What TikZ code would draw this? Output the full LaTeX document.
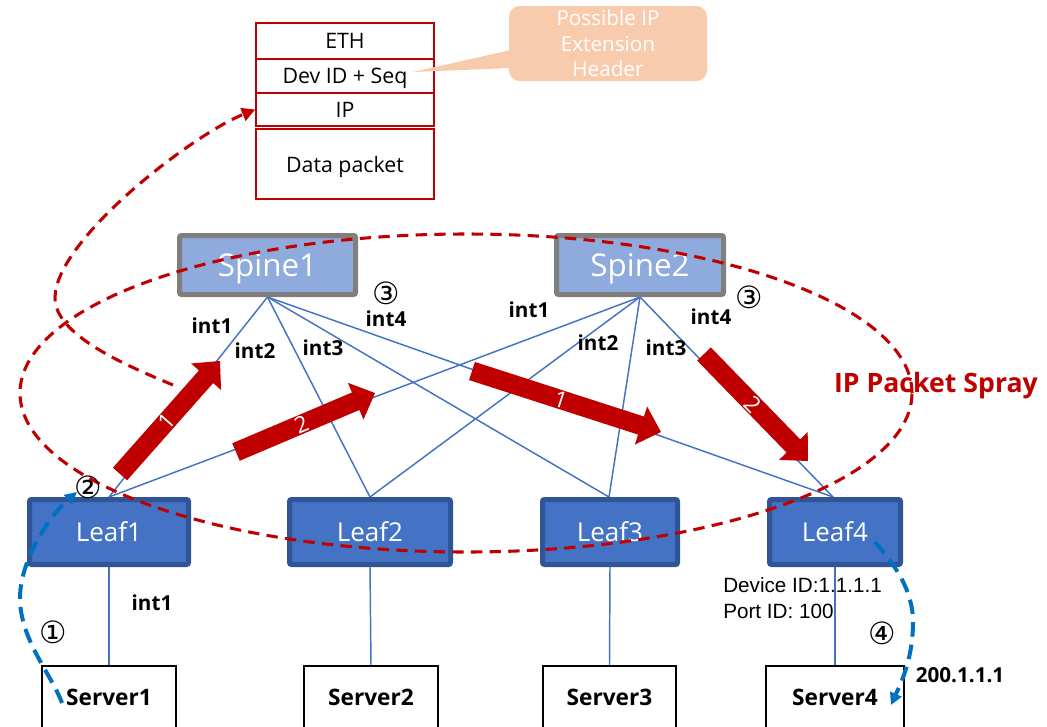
\documentclass[tikz,border=0pt]{standalone}
\usepackage{fontspec}
\setmainfont{Open Sans}
\newfontfamily\arialf{Liberation Sans}
\newfontfamily\symf{DejaVu Sans}
\usetikzlibrary{arrows.meta}
\definecolor{arrowred}{HTML}{C00000}
\definecolor{linkblue}{HTML}{4472C4}
\definecolor{spinefill}{HTML}{8FAADC}
\definecolor{spineborder}{HTML}{7F7F7F}
\definecolor{leaffill}{HTML}{4472C4}
\definecolor{leafborder}{HTML}{2F5597}
\definecolor{calloutfill}{HTML}{F8CBAD}
\definecolor{dashblue}{HTML}{0070C0}
\newcommand\blockarrow[6]{%
  \pgfmathsetmacro\bdx{#3-#1}%
  \pgfmathsetmacro\bdy{#4-#2}%
  \pgfmathsetmacro\blen{veclen(\bdx,\bdy)}%
  \pgfmathsetmacro\bang{atan2(-\bdy,\bdx)}%
  \begin{scope}[shift={(#1,#2)},rotate=\bang]
    \fill[arrowred] (0,-9.5) -- (\blen-21,-9.5) -- (\blen-21,-20) -- (\blen,0) -- (\blen-21,20) -- (\blen-21,9.5) -- (0,9.5) -- cycle;
    \node[arrowlbl,rotate=\bang] (#6) at (0.47*\blen,0) {#5};
  \end{scope}}
\begin{document}
\begin{tikzpicture}[x=0.75pt,y=-0.75pt,
  spinebox/.style={draw=spineborder,line width=3.75pt,fill=spinefill,text=white,rounded corners=1.5pt,
    font=\fontsize{23.5}{28}\selectfont,inner sep=0pt,text depth=0pt},
  leafbox/.style={draw=leafborder,line width=3.75pt,fill=leaffill,text=white,rounded corners=1.5pt,
    font=\fontsize{19.5}{23}\selectfont,inner sep=0pt,text depth=0pt,minimum height=65*0.75pt},
  serverbox/.style={draw=black,line width=1.5pt,fill=white,
    font=\bfseries\fontsize{17}{20}\selectfont,inner sep=0pt,text depth=0pt,minimum height=62*0.75pt},
  pktbox/.style={draw=arrowred,line width=1.1pt,fill=white,
    font=\fontsize{16}{19}\selectfont,inner sep=0pt,text depth=0pt,minimum width=178*0.75pt},
  link/.style={draw=linkblue,line width=1.1pt},
  intlbl/.style={font=\bfseries\fontsize{15.5}{18}\selectfont,inner sep=0pt},
  circ/.style={font=\symf\fontsize{23}{26}\selectfont,inner sep=0pt},
  arrowlbl/.style={text=white,font=\fontsize{17}{20}\selectfont,inner sep=0pt},
  reddash/.style={draw=arrowred,line width=2.3pt,dash pattern=on 8.5pt off 5.5pt},
  bluedash/.style={draw=dashblue,line width=3pt,dash pattern=on 11pt off 6pt},
]
\useasboundingbox (0,0) rectangle (1047,726);
\clip (0,0) rectangle (1047,726);

% packet stack
\node[pktbox,minimum height=36*0.75pt] (eth) at (345,41) {ETH};
\node[pktbox,minimum height=34*0.75pt] (dev) at (345,76) {Dev ID + Seq};
\node[pktbox,minimum height=33*0.75pt] (ip) at (345,109.5) {IP};
\node[pktbox,minimum height=70*0.75pt] (data) at (345,164) {Data packet};

% callout
\node[fill=calloutfill,rounded corners=8pt,minimum width=198*0.75pt,minimum height=75*0.75pt,
  text=white,align=center,font=\fontsize{15.5}{19}\selectfont,inner sep=0pt] (callout) at (608,43.5)
  {Possible IP\\Extension\\Header};
\coordinate (ptip) at (413,72);
\fill[calloutfill] (511,50) -- (ptip) -- (511,68) -- cycle;

% links (drawn first, boxes on top)
\coordinate (s1b) at (267.5,297);
\coordinate (s2b) at (640,297);
\foreach \s in {s1b,s2b}{
  \foreach \l/\x in {l1t/109,l2t/370,l3t/609,l4t/833}{
    \coordinate (\l) at (\x,497);
    \draw[link] (\s) -- (\l);
  }
}

% devices
\node[spinebox,minimum width=176*0.75pt,minimum height=59*0.75pt] (s1) at (267.5,265) {Spine1};
\node[spinebox,minimum width=167*0.75pt,minimum height=59*0.75pt] (s2) at (640,265) {Spine2};

\node[leafbox,minimum width=159*0.75pt] (l1) at (109,532) {Leaf1};
\node[leafbox,minimum width=161*0.75pt] (l2) at (370,532) {Leaf2};
\node[leafbox,minimum width=135*0.75pt] (l3) at (610,532) {Leaf3};
\node[leafbox,minimum width=131*0.75pt] (l4) at (835,532) {Leaf4};

\node[serverbox,minimum width=134*0.75pt] (sv1) at (109,697) {Server1};
\node[serverbox,minimum width=134*0.75pt] (sv2) at (371,697) {Server2};
\node[serverbox,minimum width=133*0.75pt] (sv3) at (609.5,697) {Server3};
\node[serverbox,minimum width=138*0.75pt] (sv4) at (835,697) {Server4};

\draw[link] (l1.south) -- (sv1.north);
\draw[link] (l2.south) -- (sv2.north);
\draw[link] (l3.south) -- (sv3.north);
\draw[link] (l4.south) -- (sv4.north);

% block arrows
\blockarrow{120}{474}{220}{361}{1}{a1}
\blockarrow{236}{452}{375}{393}{2}{a2}
\blockarrow{472}{371}{661}{432}{1}{a3}
\blockarrow{704}{354}{808}{461}{2}{a4}

% spray ellipse
\draw[reddash] (466,393) ellipse [x radius=334.5pt, y radius=119.25pt];

% red dashed curve to packet
\coordinate (rstart) at (173,385);
\coordinate (rmid) at (55,298);
\draw[reddash,-{Triangle[length=10pt,width=10pt]}] (rstart) .. controls (125,365) and (55,335) .. (rmid)
  .. controls (55,240) and (192,135) .. (ip.west);

% blue dashed curves
\coordinate (b1s) at (62,703);
\coordinate (b1m) at (20,598);
\coordinate (b1e) at (77,492);
\draw[bluedash,-{Triangle[length=9pt,width=9pt]}] (b1s) .. controls (52,675) and (20,640) .. (b1m)
  .. controls (20,560) and (50,515) .. (b1e);
\coordinate (b4s) at (875,542);
\coordinate (b4m) at (913,622);
\coordinate (b4e) at (891,705);
\draw[bluedash,-{Triangle[length=9pt,width=9pt]}] (b4s) .. controls (895,565) and (913,590) .. (b4m)
  .. controls (913,660) and (900,685) .. (b4e);

% labels
\node[intlbl] (s1i1) at (212,326) {int1};
\node[intlbl] (s1i2) at (255,351) {int2};
\node[intlbl] (s1i3) at (323,348) {int3};
\node[intlbl] (s1i4) at (386,319) {int4};
\node[intlbl] (s2i1) at (529,310) {int1};
\node[intlbl] (s2i2) at (598,343) {int2};
\node[intlbl] (s2i3) at (666,348) {int3};
\node[intlbl] (s2i4) at (711,317) {int4};
\node[intlbl] (l1i1) at (152,603) {int1};
\node[intlbl] (addr) at (960,675) {200.1.1.1};

\node[circ] (c1) at (53,632) {①};
\node[circ] (c2) at (88,487) {②};
\node[circ] (c3a) at (386,293) {③};
\node[circ] (c3b) at (749,297) {③};
\node[circ] (c4) at (882,633) {④};

\node[anchor=west,align=left,font=\arialf\fontsize{15.5}{19.5}\selectfont,inner sep=0pt] (devid) at (723,598)
  {Device ID:1.1.1.1\\Port ID: 100};

\node[text=arrowred,font=\bfseries\fontsize{20}{24}\selectfont,inner sep=0pt] (spray) at (936,386) {IP Packet Spray};
\end{tikzpicture}
\end{document}
